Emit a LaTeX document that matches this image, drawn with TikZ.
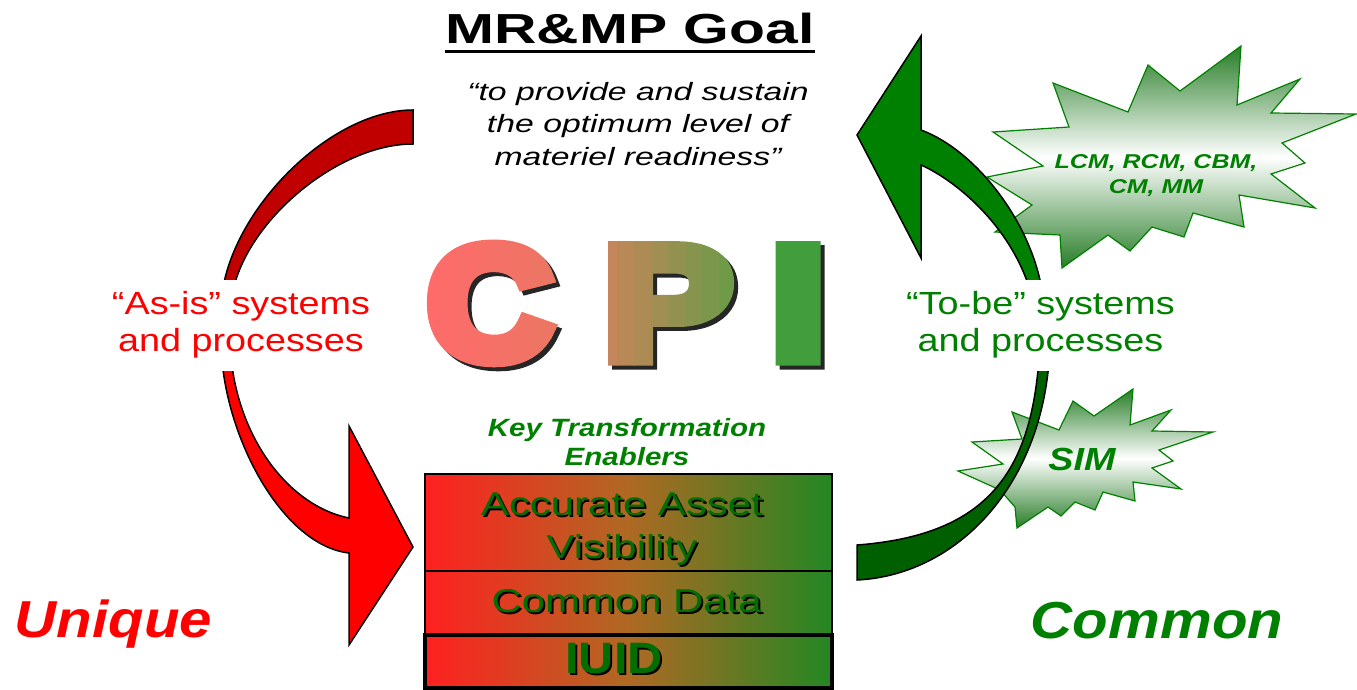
\documentclass[tikz,border=0pt]{standalone}
\usepackage{fontspec}
\setmainfont{Liberation Sans}
\newfontfamily\cpifont{Liberation Sans Bold}[FakeBold=9]

\definecolor{asisdark}{RGB}{192,0,0}
\definecolor{asisred}{RGB}{255,0,0}
\definecolor{tobegreen}{RGB}{0,128,0}
\definecolor{tobedark}{RGB}{0,96,0}
\definecolor{burstgreen}{RGB}{40,125,40}
\definecolor{boxred}{RGB}{255,32,32}
\definecolor{boxmid}{RGB}{175,105,35}
\definecolor{boxgreen}{RGB}{35,135,35}
\definecolor{enablertext}{RGB}{0,110,0}
\definecolor{cpired}{RGB}{255,106,106}
\definecolor{cpisalmon}{RGB}{234,119,99}
\definecolor{cpitan}{RGB}{196,134,90}
\definecolor{cpiolive}{RGB}{110,154,72}
\definecolor{cpigreen}{RGB}{66,158,60}

\tikzset{
  arrowbody/.style={draw=black, line width=1.5pt},
  burst/.style={draw=tobegreen, line width=1.2pt, top color=burstgreen, bottom color=burstgreen, middle color=white},
  sidelabel/.style={fill=white, align=center, inner sep=0pt, minimum height=91pt, font=\fontsize{32}{37}\selectfont, xscale=1.18},
  enabler/.style={draw=black, line width=1.2pt, left color=boxred, right color=boxgreen, middle color=boxmid, minimum width=407pt, inner sep=0pt},
  enablertxt/.style={text=enablertext, font=\fontsize{33}{43}\selectfont, align=center, xscale=1.27, inner sep=0pt},
  bigword/.style={font=\bfseries\itshape\fontsize{52}{52}\selectfont, xscale=1.12, inner sep=0pt, anchor=base},
  cpiletter/.style={font=\cpifont\fontsize{160}{160}\selectfont, xscale=#1, inner sep=0pt, anchor=base},
  cpiletter/.default=1.2
}

\begin{document}
\begin{tikzpicture}[x=1pt, y=-1pt]
\useasboundingbox (0,0) rectangle (1357,690);

% starbursts
\shadedraw[burst] (993,132) -- (1069,127) -- (1053,83) -- (1128,112) -- (1148,65) -- (1180,91) -- (1241,46) -- (1237,105) -- (1300,79) -- (1271,113) -- (1356,114) -- (1282,143) -- (1305,163) -- (1271,174) -- (1315,208) -- (1239,195) -- (1244,227) -- (1193,213) -- (1184,237) -- (1152,227) -- (1130,251) -- (1108,235) -- (1062,268) -- (1060,235) -- (995,232) -- (1032,205) -- (987,177) -- (1043,166) -- cycle;
\node[text=tobegreen, font=\bfseries\itshape\fontsize{20}{25}\selectfont, align=center, xscale=1.25, inner sep=0pt, anchor=north] (lcm) at (1156,154.7) {LCM, RCM, CBM,\\CM, MM};
\shadedraw[burst] (958,471) -- (1003,464) -- (972,442) -- (1022,439) -- (1012,412) -- (1059,430) -- (1073,401) -- (1094,416) -- (1133,389) -- (1130,425) -- (1171,410) -- (1152,431) -- (1213,432) -- (1159,450) -- (1173,461) -- (1152,468) -- (1181,489) -- (1133,482) -- (1135,501) -- (1103,492) -- (1095,510) -- (1075,502) -- (1061,516) -- (1048,507) -- (1017,528) -- (1015,507) -- (1000,490) -- cycle;
\node[text=tobegreen, font=\bfseries\itshape\fontsize{32}{32}\selectfont, xscale=1.18, inner sep=0pt, anchor=base] (sim) at (1082,470) {SIM};

% curved arrows
\filldraw[arrowbody, fill=asisdark] (413,110) .. controls (326,110) and (221,220) .. (221,310) -- (231,310) .. controls (231,235) and (331,144) .. (413,144) -- cycle;
\filldraw[arrowbody, fill=asisred] (221,340) .. controls (221,430) and (280,545) .. (349,553) -- (349,645) -- (413,547) -- (349,426) -- (349,518) .. controls (285,505) and (232,430) .. (230,340) -- cycle;
\filldraw[arrowbody, fill=tobegreen] (921,165) .. controls (955,180) and (1010,225) .. (1030,290) -- (1042,290) .. controls (1030,220) and (975,150) .. (921,130) -- (921,36) -- (857,135) -- (921,258) -- cycle;
\filldraw[arrowbody, fill=tobedark] (1040,340) .. controls (1035,470) and (990,535) .. (857,545) -- (857,580) .. controls (960,575) and (1048,480) .. (1050,340) -- cycle;

\node[sidelabel, text=asisred] (asis) at (241,325) {``As-is'' systems\\and processes};
\node[sidelabel, text=tobegreen] (tobe) at (1040.5,325) {``To-be'' systems\\and processes};

% goal
\node[font=\bfseries\fontsize{42}{42}\selectfont, xscale=1.4, inner sep=0pt, anchor=base] (goal) at (630,43.3) {MR\&MP Goal};
\draw[line width=3pt] ([yshift=-8pt]goal.base west) -- ([yshift=-8pt]goal.base east);
\node[font=\itshape\fontsize{25}{32.5}\selectfont, align=center, xscale=1.35, inner sep=0pt, anchor=north] (quote) at (638,81.7) {``to provide and sustain\\the optimum level of\\materiel readiness''};

% CPI: shadow first, then the letters coloured strip by strip
\node[cpiletter=1.08, text=black!85] (cshadow) at (494,362.5) {C};
\node[cpiletter, text=black!85] (pshadow) at (672,362.5) {P};
\node[cpiletter, text=black!85] (ishadow) at (802,362.5) {I};
\foreach \xa in {418,437,...,551}{
  \pgfmathtruncatemacro\cpct{max(0,min(100,(\xa+9.5-425)/135*100))}
  \begin{scope}
    \clip (\xa,220) rectangle ++(19.6,170);
    \node[cpiletter=1.08, text=cpisalmon!\cpct!cpired] at (490,358.5) {C};
  \end{scope}
}
\foreach \xa in {600,617,...,719}{
  \pgfmathtruncatemacro\cpct{max(0,min(100,(\xa+8.5-608)/120*100))}
  \begin{scope}
    \clip (\xa,220) rectangle ++(17.6,170);
    \node[cpiletter, text=cpiolive!\cpct!cpitan] at (668,358.5) {P};
  \end{scope}
}
\node[cpiletter, text=cpigreen] (i) at (798,358.5) {I};

% enablers
\node[text=tobegreen, font=\bfseries\itshape\fontsize{25}{29}\selectfont, align=center, xscale=1.18, inner sep=0pt, anchor=north] (key) at (627,418) {Key Transformation\\Enablers};
\node[enabler, minimum height=97pt] (aav) at (628.5,522.5) {};
\node[enabler, minimum height=64pt] (cdata) at (628.5,603) {};
\node[enabler, minimum height=53pt, line width=4pt] (iuid) at (628.5,661.5) {};
\node[enablertxt, text=black] at (624,531) {Accurate Asset\\Visibility};
\node[enablertxt] (aavtxt) at (622,529) {Accurate Asset\\Visibility};
\node[enablertxt, text=black, anchor=base] at (628.7,614.7) {Common Data};
\node[enablertxt, anchor=base] (cdatatxt) at (626.7,612.7) {Common Data};
\node[enablertxt, text=black, anchor=base, font=\bfseries\fontsize{44}{44}\selectfont, xscale=0.87] at (616,675.3) {IUID};
\node[enablertxt, anchor=base, font=\bfseries\fontsize{44}{44}\selectfont, xscale=0.87] (iuidtxt) at (614,673.3) {IUID};

\node[bigword, text=asisred] (unique) at (113.5,637) {Unique};
\node[bigword, text=tobegreen] (common) at (1157,638) {Common};
\end{tikzpicture}
\end{document}
